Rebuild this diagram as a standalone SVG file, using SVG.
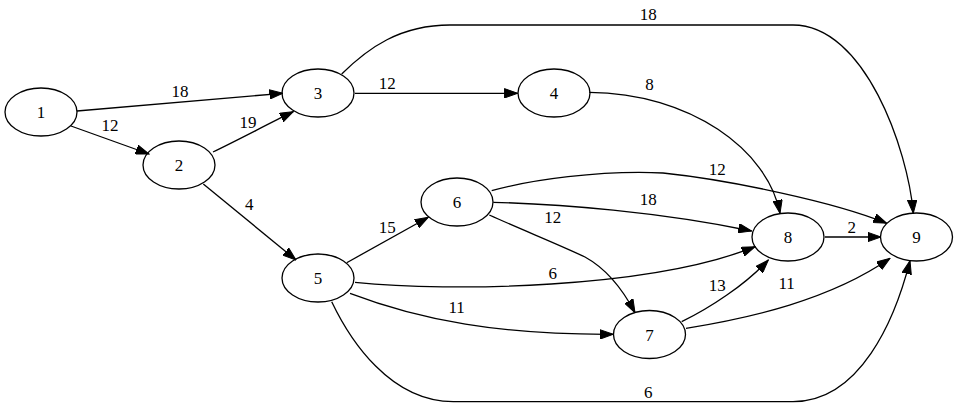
<svg xmlns="http://www.w3.org/2000/svg" width="959" height="408" viewBox="0 0 959 408">
<style>
.n ellipse{fill:none;stroke:#000;stroke-width:1.3}
text{font-family:"Liberation Serif","Times New Roman",serif;font-size:17px;fill:#000;text-anchor:middle}
.e path{fill:none;stroke:#000;stroke-width:1.3;marker-end:url(#ah)}
</style>
<defs>
<marker id="ah" markerUnits="userSpaceOnUse" markerWidth="14" markerHeight="10" viewBox="0 0 14 10" refX="13.3" refY="5" orient="auto">
<path d="M0,0.3 L13.3,5 L0,9.7 Z" fill="#000" stroke="#000" stroke-width="1"/>
</marker>
</defs>
<rect width="959" height="408" fill="#fff"/>
<g id="edges" class="e">
<path d="M77,111 L282.7,93.3"/>
<path d="M71,126 L149,154"/>
<path d="M213,152 C240,139 268,124 293.3,111.7"/>
<path d="M203.3,184 L296,260"/>
<path d="M355,93.3 L517.7,93.3"/>
<path d="M341.7,74 C368,48 400,25 450,25 L793,25 C865,25 908,150 913.3,213.3"/>
<path d="M589.3,92.3 C690,93 768,150 780,213.3"/>
<path d="M346.7,262.7 L428.3,217.3"/>
<path d="M355,282.3 C450,292 650,289 755,246.7"/>
<path d="M350,293.3 C420,320 500,335 613.3,334.3"/>
<path d="M331.7,301.7 C350,340 390,401.7 453.3,401.7 L793,401.7 C860,401.7 895,320 910,260.7"/>
<path d="M491.7,190.7 C530,180 600,170 663,173 C730,180 835,202 886.7,223.3"/>
<path d="M493.3,202.3 C560,204 660,212 751.7,231"/>
<path d="M489.3,215 C520,229 560,245 585,257 C605,268 622,288 635,312.7"/>
<path d="M681.7,321.7 C710,308 745,285 768.3,260"/>
<path d="M686,328.3 C750,318 830,300 890,258.3"/>
<path d="M825,237 L881,237"/>
</g>
<g id="edge-labels">
<text x="180" y="97">18</text>
<text x="110" y="131">12</text>
<text x="248" y="127.5">19</text>
<text x="249.3" y="210">4</text>
<text x="387.3" y="88.5">12</text>
<text x="648.3" y="20">18</text>
<text x="649.5" y="90">8</text>
<text x="387.3" y="232.5">15</text>
<text x="717.3" y="175">12</text>
<text x="648.3" y="204.5">18</text>
<text x="552.7" y="223">12</text>
<text x="552.7" y="279">6</text>
<text x="456.7" y="312.5">11</text>
<text x="648.3" y="398">6</text>
<text x="717.3" y="291">13</text>
<text x="786.7" y="288.5">11</text>
<text x="851.7" y="233">2</text>
</g>
<g id="n1" class="n"><ellipse cx="41" cy="112" rx="36" ry="24"/><text x="41" y="118">1</text></g>
<g id="n2" class="n"><ellipse cx="179" cy="165" rx="36" ry="24"/><text x="179" y="171">2</text></g>
<g id="n3" class="n"><ellipse cx="318" cy="93" rx="36" ry="24"/><text x="318" y="99">3</text></g>
<g id="n4" class="n"><ellipse cx="554" cy="93" rx="36" ry="24"/><text x="554" y="99">4</text></g>
<g id="n5" class="n"><ellipse cx="318" cy="278" rx="36" ry="24"/><text x="318" y="284">5</text></g>
<g id="n6" class="n"><ellipse cx="457" cy="202" rx="36" ry="24"/><text x="457" y="208">6</text></g>
<g id="n7" class="n"><ellipse cx="649.5" cy="334.5" rx="36" ry="24"/><text x="649.5" y="340.5">7</text></g>
<g id="n8" class="n"><ellipse cx="788" cy="237" rx="36" ry="24"/><text x="788" y="243">8</text></g>
<g id="n9" class="n"><ellipse cx="916.5" cy="237" rx="36" ry="24"/><text x="916.5" y="243">9</text></g>
</svg>
